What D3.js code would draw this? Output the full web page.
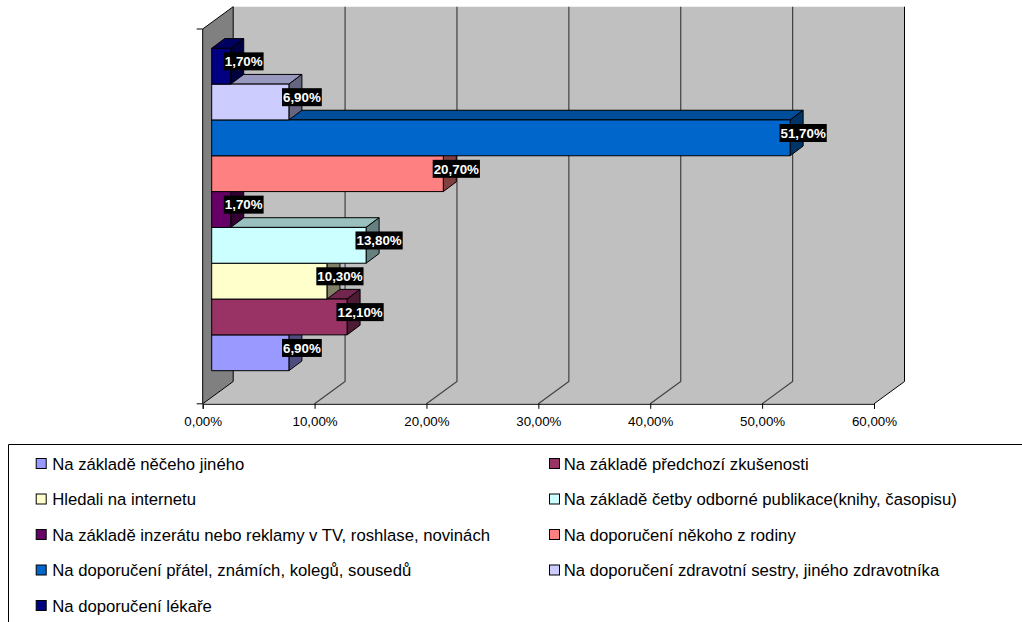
<!DOCTYPE html>
<html lang="cs">
<head>
<meta charset="utf-8">
<script src="https://cdnjs.cloudflare.com/ajax/libs/d3/7.8.5/d3.min.js"></script>
<style>
  html, body { margin: 0; padding: 0; background: #fff; }
  svg { display: block; font-family: "Liberation Sans", Arial, sans-serif; }
</style>
</head>
<body>
<svg id="chart" width="1022" height="622"></svg>
<script>
// Categories in stacking order, bottom bar first
const categories = [
  "Na základě něčeho jiného",
  "Na základě předchozí zkušenosti",
  "Hledali na internetu",
  "Na základě četby odborné publikace(knihy, časopisu)",
  "Na základě inzerátu nebo reklamy v TV, roshlase, novinách",
  "Na doporučení někoho z rodiny",
  "Na doporučení přátel, známích, kolegů, sousedů",
  "Na doporučení zdravotní sestry, jiného zdravotníka",
  "Na doporučení lékaře"
];
const values = [6.9, 12.1, 10.3, 13.8, 1.7, 20.7, 51.7, 6.9, 1.7];
const colors = ["#9999FF", "#993366", "#FFFFCC", "#CCFFFF", "#660066", "#FF8080", "#0066CC", "#CCCCFF", "#000080"];
const axisTicks = [0, 10, 20, 30, 40, 50, 60];

const svg = d3.select("#chart");
const comma = v => v.toFixed(2).replace(".", ",") + "%";

// Plot geometry: the floor runs along the front edge, the wall sits behind it
const floorY = 403.8, topY = 29;
const wallDX = 30.5, wallDY = 22.3;
const barDX = 13, barDY = 9.7, barInset = 9;

const x = d3.scaleLinear().domain([0, 60]).range([202.7, 874]);
const y = d3.scaleBand().domain(categories).range([370.7, 48.3]);

const poly = pts => pts.map(p => p.join(",")).join(" ");
const wallLeft = x(0) + wallDX, wallRight = x(60) + wallDX;
const wallTop = topY - wallDY, wallBottom = floorY - wallDY;

// Back wall and floor
svg.append("polygon")
  .attr("points", poly([[wallLeft, wallTop], [wallRight, wallTop], [wallRight, wallBottom], [x(60), floorY], [x(0), floorY], [wallLeft, wallBottom]]))
  .attr("fill", "#C0C0C0");

// Side wall
svg.append("polygon")
  .attr("points", poly([[x(0), topY], [wallLeft, wallTop], [wallLeft, wallBottom], [x(0), floorY]]))
  .attr("fill", "#808080");

// Gridlines: up the back wall, then diagonally across the floor
svg.append("g").selectAll("path")
  .data(axisTicks)
  .join("path")
  .attr("d", t => `M${x(t) + wallDX},${wallTop}V${wallBottom}L${x(t)},${floorY}`)
  .attr("fill", "none")
  .attr("stroke", d => (d === 0 || d === 60) ? "#000" : "#404040")
  .attr("stroke-width", d => (d === 0 || d === 60) ? 1 : 1.2);

// Left edge of the side wall and the top edge joining it to the back wall
svg.append("path")
  .attr("d", `M${x(0)},${floorY}V${topY}L${wallLeft},${wallTop}`)
  .attr("fill", "none").attr("stroke", "#000");

// Value axis along the front of the floor
const axis = d3.axisBottom(x).tickValues(axisTicks).tickFormat(comma).tickSize(5).tickPadding(7.5);
const axisG = svg.append("g").attr("transform", `translate(0,${floorY})`).call(axis);
axisG.select(".domain").attr("stroke", "#000");
axisG.selectAll("line").attr("stroke", "#000");
axisG.selectAll("text").attr("font-size", 13.33).attr("font-family", "Liberation Sans").attr("fill", "#000");

// Category axis: end ticks only
svg.append("g").selectAll("line")
  .data([topY, floorY])
  .join("line")
  .attr("x1", x(0) - 6).attr("x2", x(0))
  .attr("y1", d => d).attr("y2", d => d)
  .attr("stroke", "#000");

// Bars, lowest first: each bar's front covers the top face of the one below
const rows = categories.map((c, i) => ({ c, v: values[i], col: colors[i] }));
const shade = (col, k) => {
  const c = d3.rgb(col);
  return d3.rgb(c.r * k, c.g * k, c.b * k).formatHex();
};

const bars = svg.append("g").selectAll("g").data(rows).join("g")
  .attr("stroke", "#000").attr("stroke-width", 1).attr("stroke-linejoin", "round");

const x0 = x(0) + barInset;
const xEnd = d => x0 + (x(d.v) - x(0));

bars.append("polygon")
  .attr("fill", d => shade(d.col, 0.75))
  .attr("points", d => {
    const t = y(d.c), e = xEnd(d);
    return poly([[x0, t], [x0 + barDX, t - barDY], [e + barDX, t - barDY], [e, t]]);
  });
bars.append("polygon")
  .attr("fill", d => shade(d.col, 0.5))
  .attr("points", d => {
    const t = y(d.c), b = t + y.bandwidth(), e = xEnd(d);
    return poly([[e, t], [e + barDX, t - barDY], [e + barDX, b - barDY], [e, b]]);
  });
bars.append("rect")
  .attr("x", x0).attr("y", d => y(d.c))
  .attr("width", d => xEnd(d) - x0).attr("height", y.bandwidth())
  .attr("fill", d => d.col);

// Value labels on black plates, above every bar
const labels = svg.append("g").selectAll("g").data(rows).join("g")
  .attr("transform", d => `translate(${xEnd(d) + barDX},${y(d.c) + y.bandwidth() / 2 - barDY / 2})`);
const labelPlates = labels.append("rect").attr("fill", "#000");
const labelTexts = labels.append("text")
  .attr("text-anchor", "middle").attr("dy", "0.36em")
  .attr("font-size", 13.33).attr("font-weight", "bold").attr("fill", "#fff")
  .text(d => comma(d.v));
labelTexts.each(function (d, i) {
  const w = this.getComputedTextLength() + 2;
  d3.select(labelPlates.nodes()[i])
    .attr("x", -w / 2).attr("y", -9).attr("width", w).attr("height", 18);
});

// Legend frame, open at the right and bottom page edges
svg.append("path")
  .attr("d", "M1022,444.5H8.5V622")
  .attr("fill", "none").attr("stroke", "#000");

const legendSwatchX = [36.2, 549.5];
const legendTextX = [52.2, 563.8];
const legendRow = d3.scalePoint().domain(d3.range(5)).range([463.5, 605.5]);
const legend = svg.append("g").selectAll("g").data(categories).join("g")
  .attr("transform", (d, i) => `translate(0,${legendRow(Math.floor(i / 2))})`);
legend.append("rect")
  .attr("x", (d, i) => legendSwatchX[i % 2]).attr("y", -5).attr("width", 10).attr("height", 10)
  .attr("fill", (d, i) => colors[i]).attr("stroke", "#000");
legend.append("text")
  .attr("x", (d, i) => legendTextX[i % 2]).attr("dy", "0.36em").attr("font-size", 16.7).attr("fill", "#000")
  .text(d => d);
</script>
</body>
</html>
